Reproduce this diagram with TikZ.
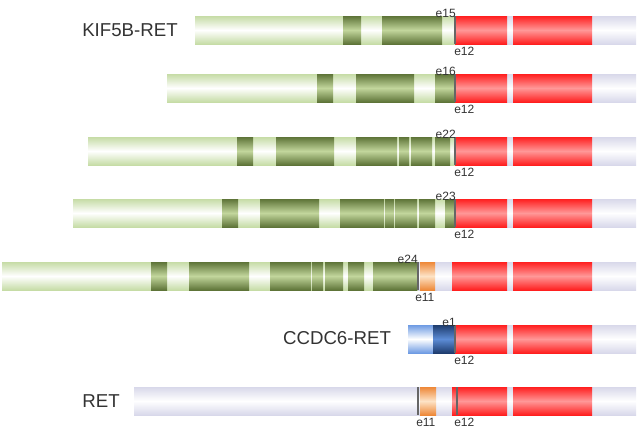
\documentclass[tikz,border=0pt]{standalone}
\usepackage{fontspec}
\setmainfont{Liberation Sans}
\usetikzlibrary{positioning}

\definecolor{kifedge}{HTML}{C6DCA6}
\definecolor{kifdark}{HTML}{5E7438}
\definecolor{kifmid}{HTML}{C2D69C}
\definecolor{retred}{HTML}{FF1F1F}
\definecolor{retpink}{HTML}{FF9898}
\definecolor{retedge}{HTML}{D8D8EA}
\definecolor{ccdcedge}{HTML}{6E9BE3}
\definecolor{ccdcdark}{HTML}{1E3C6E}
\definecolor{ccdcmid}{HTML}{5C8CD6}
\definecolor{oredge}{HTML}{EE8838}
\definecolor{ormid}{HTML}{FDE3C6}
\definecolor{labgray}{HTML}{333333}

\newcommand{\exonbox}[4]{\shade[#1] (#2,#4) rectangle (#3,{#4+28});}

\begin{document}
\begin{tikzpicture}[x=0.75pt, y=-0.75pt,
	kif/.style={top color=kifedge, bottom color=kifedge, middle color=white},
	kifex/.style={top color=kifdark, bottom color=kifdark, middle color=kifmid},
	retbg/.style={top color=retedge, bottom color=retedge, middle color=white},
	retex/.style={top color=retred, bottom color=retred, middle color=retpink},
	ccdc/.style={top color=ccdcedge, bottom color=ccdcedge, middle color=white},
	ccdcex/.style={top color=ccdcdark, bottom color=ccdcdark, middle color=ccdcmid},
	orex/.style={top color=oredge, bottom color=oredge, middle color=ormid},
	junction/.style={draw=black!60, line width=0.8pt},
	genename/.style={font=\fontsize{14}{16}\selectfont, text=labgray, inner sep=0pt},
	lab/.style={font=\fontsize{9}{10}\selectfont, text=labgray, inner sep=0pt}]
	\useasboundingbox (0,0) rectangle (640,437);
	% backbones
	\exonbox{kif}{195}{455}{16}
	\exonbox{kif}{167}{455}{74}
	\exonbox{kif}{88}{455}{137}
	\exonbox{kif}{73}{456}{199}
	\exonbox{kif}{2}{418}{262}
	\exonbox{ccdc}{408}{433}{325}
	\foreach \y in {16,74,137,199,325} {\exonbox{retbg}{455}{636}{\y}}
	\exonbox{retbg}{418}{636}{262}
	\exonbox{retbg}{134}{636}{387}
	% KIF5B exons
	\exonbox{kifex}{343}{361}{16}
	\exonbox{kifex}{382}{442}{16}
	\exonbox{kifex}{317}{333}{74}
	\exonbox{kifex}{356}{414}{74}
	\exonbox{kifex}{435}{455}{74}
	\exonbox{kifex}{237}{253}{137}
	\exonbox{kifex}{276}{334}{137}
	\exonbox{kifex}{356}{397}{137}
	\exonbox{kifex}{399}{409}{137}
	\exonbox{kifex}{411}{432}{137}
	\exonbox{kifex}{435}{450}{137}
	\exonbox{kifex}{222}{238}{199}
	\exonbox{kifex}{260}{319}{199}
	\exonbox{kifex}{340}{384}{199}
	\exonbox{kifex}{385}{394}{199}
	\exonbox{kifex}{395}{417}{199}
	\exonbox{kifex}{419}{435}{199}
	\exonbox{kifex}{445}{456}{199}
	\exonbox{kifex}{151}{167}{262}
	\exonbox{kifex}{189}{249}{262}
	\exonbox{kifex}{270}{311}{262}
	\exonbox{kifex}{312}{323}{262}
	\exonbox{kifex}{325}{343}{262}
	\exonbox{kifex}{348}{364}{262}
	\exonbox{kifex}{373}{417}{262}
	\exonbox{ccdcex}{433}{455}{325}
	% RET exons
	\exonbox{orex}{420}{435}{262}
	\exonbox{orex}{420}{436}{387}
	\foreach \y in {16,74,137,199,325} {\exonbox{retex}{455}{507}{\y}}
	\foreach \y in {262,387} {\exonbox{retex}{452}{507}{\y}}
	\foreach \y in {16,74,137,199,262,325,387} {\exonbox{retex}{513}{592}{\y}}
	% breakpoints
	\foreach \y in {16,74,137,199,325} {\draw[junction] (455,\y) -- (455,{\y+28});}
	\draw[junction] (418,262) -- (418,290);
	\draw[junction] (418,387) -- (418,415);
	\draw[junction] (457,387) -- (457,415);
	% labels
	\node[genename] (kif) at (130,30) {KIF5B-RET};
	\node[genename] (ccdc) at (337,338) {CCDC6-RET};
	\node[genename] (ret) at (101,401) {RET};
	\node[lab, anchor=base east] (e15) at (456,17) {e15};
	\node[lab, anchor=base west] (e12a) at (454,55.5) {e12};
	\node[lab, anchor=base east] (e16) at (456,75) {e16};
	\node[lab, anchor=base west] (e12b) at (454,113.5) {e12};
	\node[lab, anchor=base east] (e22) at (456,138) {e22};
	\node[lab, anchor=base west] (e12c) at (454,176.5) {e12};
	\node[lab, anchor=base east] (e23) at (456,200) {e23};
	\node[lab, anchor=base west] (e12d) at (454,238.5) {e12};
	\node[lab, anchor=base east] (e24) at (418,263) {e24};
	\node[lab, anchor=base west] (e11a) at (415,301) {e11};
	\node[lab, anchor=base east] (e1) at (456,326) {e1};
	\node[lab, anchor=base west] (e12e) at (454,364) {e12};
	\node[lab, anchor=base west] (e11b) at (416,426.5) {e11};
	\node[lab, anchor=base west] (e12f) at (454,426.5) {e12};
\end{tikzpicture}
\end{document}
